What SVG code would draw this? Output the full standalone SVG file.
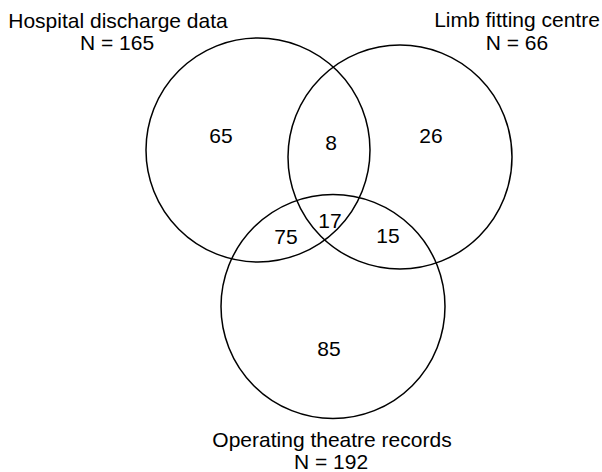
<svg xmlns="http://www.w3.org/2000/svg" width="602" height="472" viewBox="0 0 602 472">
<style>
.c{fill:none;stroke:#000;stroke-width:1.5}
text{font-family:"Liberation Sans",Arial,sans-serif;font-size:21px;fill:#000;text-anchor:middle}
</style>
<rect width="602" height="472" fill="#fff"/>
<g id="hospital"><circle class="c" cx="258" cy="150" r="112"/><text x="118" y="27.5">Hospital discharge data</text><text x="117" y="50">N = 165</text></g>
<g id="limb"><circle class="c" cx="400" cy="157" r="112"/><text x="517" y="27">Limb fitting centre</text><text x="517" y="50">N = 66</text></g>
<g id="theatre"><circle class="c" cx="333" cy="306.5" r="112"/><text x="332" y="447">Operating theatre records</text><text x="331" y="469">N = 192</text></g>
<g id="regions">
<text x="221" y="143">65</text>
<text x="331" y="150">8</text>
<text x="431" y="143">26</text>
<text x="330" y="228">17</text>
<text x="286" y="244">75</text>
<text x="388" y="243">15</text>
<text x="329" y="356">85</text>
</g>
<g id="connectors"/>
</svg>
